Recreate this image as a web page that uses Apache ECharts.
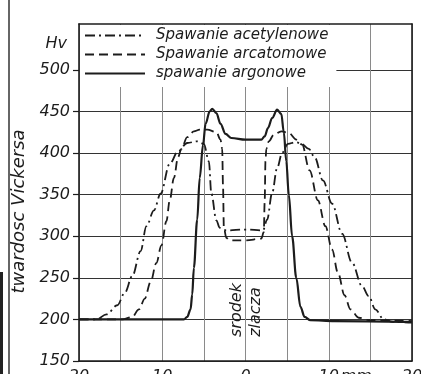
<!DOCTYPE html>
<html>
<head>
<meta charset="utf-8">
<script src="https://cdn.jsdelivr.net/npm/echarts@6/dist/echarts.min.js"></script>
<style>
  html, body { margin: 0; padding: 0; background: #fff; }
  #chart { width: 421px; height: 374px; }
</style>
</head>
<body>
<div id="chart"></div>
<script>
// Vickers hardness across the weld joint, distance from joint centre in mm
const acetyleneMm = [-20, -17.9, -16.7, -15.4, -14.5, -13.6, -12.6, -11.9, -11.0, -10.2, -9.1, -8.1, -7.0, -5.8, -5.0, -4.4, -4.1, -3.5, -3.1, -2.3, 0, 2.1, 2.6, 3.2, 3.8, 4.4, 5.1, 6.0, 6.6, 7.6, 8.3, 9.3, 10.4, 11.6, 12.8, 14.0, 14.8, 15.6, 16.6, 17.7, 20];
const acetyleneHv = [200, 200, 206, 217, 232, 252, 282, 312, 331, 351, 387, 402, 412, 414, 411, 390, 351, 319, 310, 307, 308, 307, 320, 352, 382, 400, 411, 413, 412, 405, 395, 367, 339, 303, 268, 240, 228, 212, 200, 197, 196];

const arcatomMm = [-20, -14.8, -13.6, -12.8, -12.1, -11.4, -10.7, -10.1, -9.5, -9.1, -8.6, -8.1, -7.7, -7.0, -6.2, -5.5, -4.6, -3.5, -3.0, -2.8, -2.7, -2.6, -2.3, -1.9, 0, 1.9, 2.2, 2.3, 2.4, 2.5, 2.8, 3.4, 4.3, 5.2, 6.1, 6.8, 7.7, 8.7, 9.6, 10.4, 11.1, 11.9, 12.6, 13.6, 14.9, 20];
const arcatomHv = [200, 200, 203, 212, 225, 245, 268, 289, 318, 343, 370, 395, 405, 419, 426, 428, 428, 425, 416, 405, 360, 310, 298, 295, 295, 297, 305, 340, 390, 405, 414, 422, 426, 424, 416, 410, 379, 343, 312, 284, 256, 229, 212, 202, 199, 198];

const argonMm = [-20, -7.4, -7.0, -6.6, -6.4, -6.2, -5.8, -5.5, -5.1, -4.8, -4.3, -4.0, -3.5, -3.0, -2.4, -1.7, 0, 1.9, 2.3, 2.7, 3.2, 3.8, 4.3, 4.6, 4.9, 5.2, 5.6, 6.1, 6.6, 7.1, 7.8, 10.7, 20];
const argonHv = [200, 200, 203, 212, 230, 262, 320, 370, 410, 435, 450, 453, 448, 435, 423, 418, 416, 416, 420, 430, 442, 452, 447, 425, 390, 350, 300, 250, 215, 203, 199, 198, 197];

const seriesNames = ['Spawanie acetylenowe', 'Spawanie arcatomowe', 'spawanie argonowe'];
const hvTicks = [150, 200, 250, 300, 350, 400, 450, 500];
const mmTicks = [-20, -10, 0, 10, 20];

const ink = '#1c1c1c';
const font = 'DejaVu Sans';
const clear = 'rgba(0,0,0,0)';

function pairs(xs, ys) { return xs.map((x, i) => [x, ys[i]]); }

const chart = echarts.init(document.getElementById('chart'), null, { renderer: 'canvas' });

// horizontal grid drawn 150..500 only; lines above are left blank
const hLineColors = ['#333', '#333', '#333', '#333', '#333', '#333', '#333', '#333', clear, clear, clear];

const lineBase = { type: 'line', showSymbol: false, symbol: 'none', smooth: 0.35, smoothMonotone: 'x', z: 5 };

chart.setOption({
  backgroundColor: '#fff',
  animation: false,
  grid: { left: 79, right: 9, top: 24, bottom: 13, outerBoundsMode: 'none', containLabel: false },
  legend: {
    orient: 'vertical',
    left: 80, top: 25,
    backgroundColor: '#fff',
    padding: [3, 8, 6, 4],
    itemWidth: 60, itemHeight: 14, itemGap: 4,
    data: seriesNames,
    itemStyle: { color: clear, borderColor: clear, borderWidth: 0 },
    textStyle: { fontFamily: font, fontStyle: 'italic', fontSize: 15, color: ink, padding: [0, 0, 0, 6] }
  },
  xAxis: [{
    type: 'value', min: -20, max: 20, interval: 5,
    axisLine: { show: true, onZero: false, lineStyle: { color: ink, width: 1.6 } },
    axisTick: { show: false },
    splitLine: { show: true, lineStyle: { color: '#8a8a8a', width: 1 } },
    axisLabel: {
      margin: 8, fontFamily: font, fontStyle: 'italic', fontSize: 16, color: ink,
      customValues: mmTicks,
      formatter: v => String(Math.abs(v))
    }
  }, {
    type: 'value', position: 'top', min: -20, max: 20,
    axisLine: { show: true, onZero: false, lineStyle: { color: ink, width: 1.6 } },
    axisTick: { show: false }, axisLabel: { show: false }, splitLine: { show: false }
  }],
  yAxis: [{
    type: 'value', min: 150, max: 555, interval: 50,
    name: 'twardosc Vickersa', nameLocation: 'middle', nameRotate: 90, nameGap: 40,
    nameTextStyle: { fontFamily: font, fontStyle: 'italic', fontSize: 18, color: ink, padding: [0, 38, 0, 0] },
    axisLine: { show: true, onZero: false, lineStyle: { color: ink, width: 1.6 } },
    axisTick: { show: true, length: 6, customValues: hvTicks, lineStyle: { color: ink, width: 1.2 } },
    splitLine: { show: true, lineStyle: { color: hLineColors, width: 1.1 } },
    axisLabel: {
      margin: 9, fontFamily: font, fontStyle: 'italic', fontSize: 16, color: ink,
      customValues: hvTicks
    }
  }, {
    type: 'value', position: 'right', min: 150, max: 555,
    axisLine: { show: true, onZero: false, lineStyle: { color: ink, width: 1.6 } },
    axisTick: { show: false }, axisLabel: { show: false }, splitLine: { show: false }
  }],
  series: [
    Object.assign({}, lineBase, {
      name: seriesNames[0], data: pairs(acetyleneMm, acetyleneHv),
      lineStyle: { color: ink, width: 1.8, type: [10, 4, 2, 4] }, itemStyle: { color: ink }
    }),
    Object.assign({}, lineBase, {
      name: seriesNames[1], data: pairs(arcatomMm, arcatomHv),
      lineStyle: { color: ink, width: 1.8, type: [9, 5] }, itemStyle: { color: ink }
    }),
    Object.assign({}, lineBase, {
      name: seriesNames[2], data: pairs(argonMm, argonHv),
      lineStyle: { color: ink, width: 2.2, type: 'solid' }, itemStyle: { color: ink }
    })
  ]
});

// annotations placed from the axis scales
const px = (x, y) => chart.convertToPixel({ xAxisIndex: 0, yAxisIndex: 0 }, [x, y]);
const hvPos = px(-20, 531);
const mmPos = px(13.3, 150);
const centre = px(0, 150);
const H = chart.getHeight();

chart.setOption({
  graphic: [
    { type: 'text', x: hvPos[0] - 12, y: hvPos[1], style: { text: 'Hv', fontFamily: font, fontStyle: 'italic', fontSize: 16, fill: ink, align: 'right', verticalAlign: 'middle' } },
    { type: 'text', x: mmPos[0], y: mmPos[1] + 8, style: { text: 'mm', fontFamily: font, fontStyle: 'italic', fontSize: 16, fill: ink, align: 'center', verticalAlign: 'top' } },
    { type: 'text', x: centre[0] - 1, y: centre[1] - 51, rotation: Math.PI / 2, style: { text: 'srodek', fontFamily: font, fontStyle: 'italic', fontSize: 16, fill: ink, align: 'center', verticalAlign: 'bottom' } },
    { type: 'text', x: centre[0] + 2, y: centre[1] - 49, rotation: Math.PI / 2, style: { text: 'zlacza', fontFamily: font, fontStyle: 'italic', fontSize: 16, fill: ink, align: 'center', verticalAlign: 'top' } },
    // page edge rule and binding strip
    { type: 'line', shape: { x1: 9, y1: 0, x2: 9, y2: H }, style: { stroke: '#333', lineWidth: 1.5 } },
    { type: 'rect', shape: { x: 0, y: 272, width: 3, height: H - 272 }, style: { fill: '#222' } }
  ]
});
</script>
</body>
</html>
